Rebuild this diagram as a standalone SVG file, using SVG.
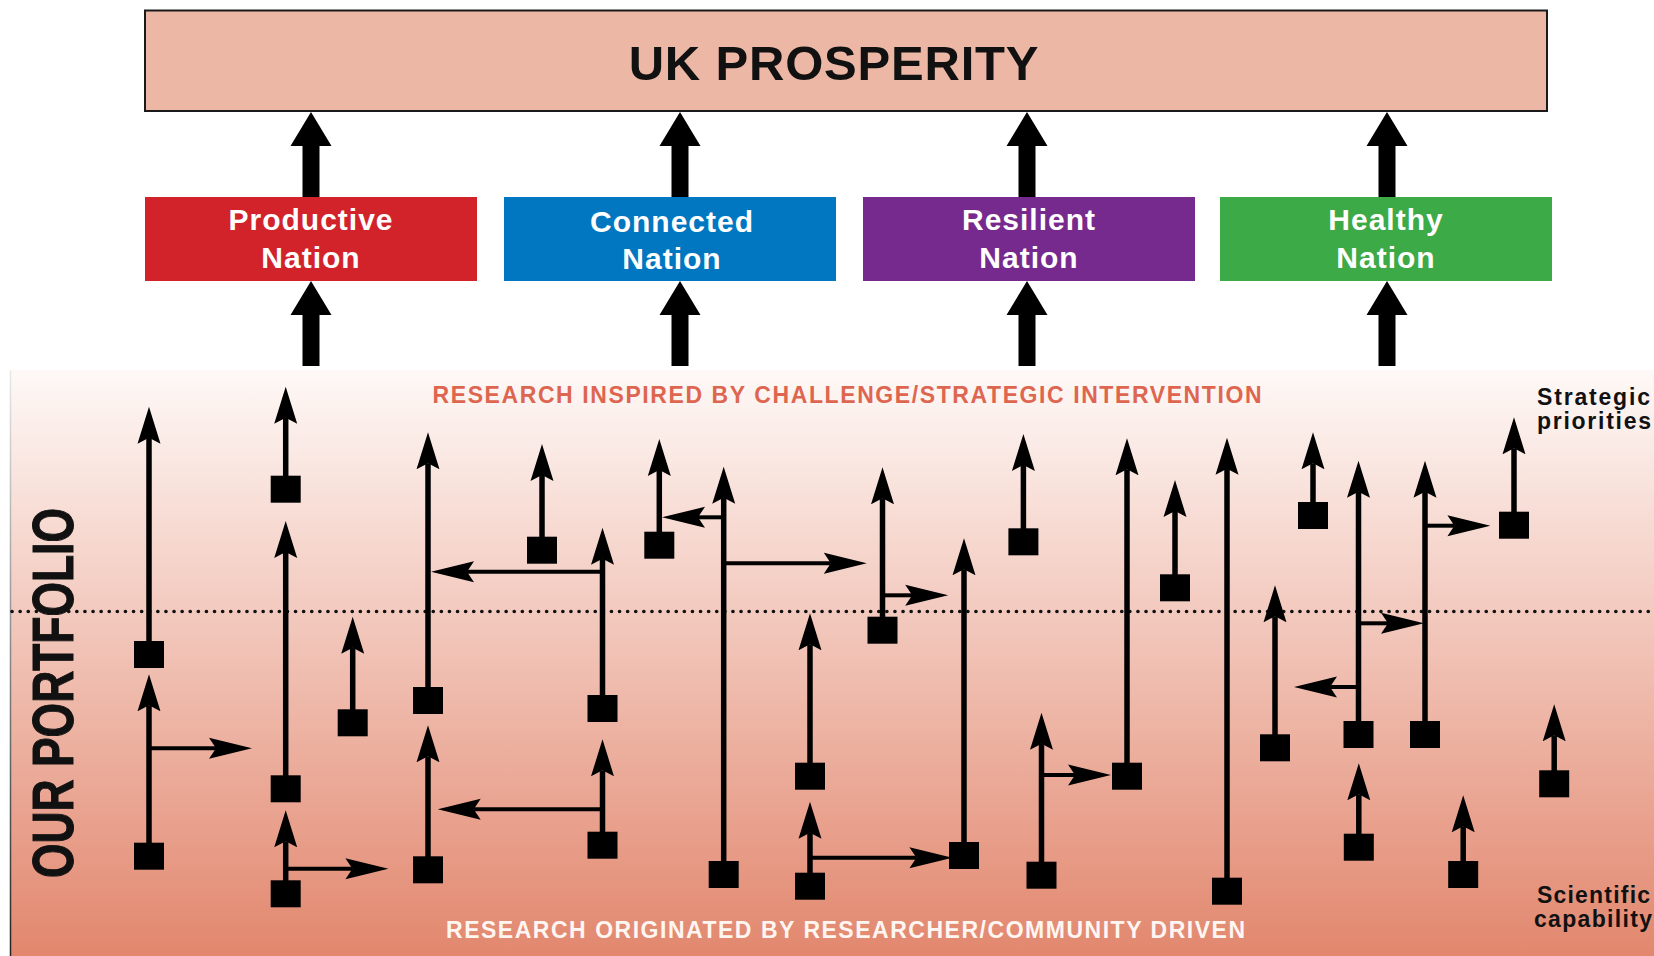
<svg xmlns="http://www.w3.org/2000/svg" width="1654" height="956" viewBox="0 0 1654 956">
<defs>
<linearGradient id="bg" x1="0" y1="370" x2="0" y2="956" gradientUnits="userSpaceOnUse">
<stop offset="0" stop-color="#FEF9F7"/>
<stop offset="0.4" stop-color="#F3CBC0"/>
<stop offset="1" stop-color="#E2876E"/>
</linearGradient>
<linearGradient id="edge" x1="0" y1="370" x2="0" y2="956" gradientUnits="userSpaceOnUse">
<stop offset="0" stop-color="#E8E8E8"/>
<stop offset="1" stop-color="#222"/>
</linearGradient>
<marker id="hv" markerUnits="userSpaceOnUse" viewBox="0 -12 38 24" markerWidth="38" markerHeight="24" refX="6" refY="0" orient="auto">
<path d="M37,0 L0,-11.5 L6,0 L0,11.5 Z" fill="#000"/>
</marker>
<marker id="hh" markerUnits="userSpaceOnUse" viewBox="0 -11 44 22" markerWidth="44" markerHeight="22" refX="7" refY="0" orient="auto">
<path d="M43,0 L0,-10.5 L7,0 L0,10.5 Z" fill="#000"/>
</marker>
<path id="big" d="M0,0 L20.5,34 L8.5,34 L8.5,85 L-8.5,85 L-8.5,34 L-20.5,34 Z" fill="#000"/>
<rect id="sq" x="-15" y="0" width="30" height="27" fill="#000"/>
</defs>
<style>
.v{stroke:#000;stroke-width:5.5;fill:none}
.h{stroke:#000;stroke-width:4;fill:none}
.nat{font-family:"Liberation Sans",Arial,sans-serif;font-weight:bold;font-size:30px;fill:#fff;text-anchor:middle;letter-spacing:1px}
.side{font-family:"Liberation Sans",Arial,sans-serif;font-weight:bold;font-size:23px;fill:#111}
.band{font-family:"Liberation Sans",Arial,sans-serif;font-weight:bold;font-size:23px}
</style>
<rect x="0" y="0" width="1654" height="956" fill="#fff"/>
<rect id="portfolio-bg" x="10" y="370" width="1644" height="586" fill="url(#bg)"/>
<line x1="10.5" y1="370" x2="10.5" y2="956" stroke="url(#edge)" stroke-width="1.5"/>
<line id="divider" x1="12" y1="611.5" x2="1654" y2="611.5" stroke="#111" stroke-width="3.6" stroke-linecap="round" stroke-dasharray="0.1 8"/>

<g id="uk-prosperity">
<rect x="145" y="10.5" width="1402" height="100.5" fill="#EDB7A5" stroke="#1a1a1a" stroke-width="2"/>
<text x="834" y="80" font-family="'Liberation Sans',Arial,sans-serif" font-weight="bold" font-size="49" letter-spacing="0.8" text-anchor="middle" fill="#111">UK PROSPERITY</text>
</g>
<g id="productive-nation">
<rect x="145" y="197" width="332" height="84" fill="#D2232A"/>
<text class="nat" x="311" y="230">Productive</text>
<text class="nat" x="311" y="268">Nation</text>
</g>
<g id="connected-nation">
<rect x="504" y="197" width="332" height="84" fill="#0077C0"/>
<text class="nat" x="672" y="232">Connected</text>
<text class="nat" x="672" y="269">Nation</text>
</g>
<g id="resilient-nation">
<rect x="863" y="197" width="332" height="84" fill="#772A8E"/>
<text class="nat" x="1029" y="230">Resilient</text>
<text class="nat" x="1029" y="268">Nation</text>
</g>
<g id="healthy-nation">
<rect x="1220" y="197" width="332" height="84" fill="#3DAA48"/>
<text class="nat" x="1386" y="230">Healthy</text>
<text class="nat" x="1386" y="268">Nation</text>
</g>

<g id="labels">
<text class="band" x="432.5" y="403.3" textLength="829" lengthAdjust="spacing" fill="#DE6650">RESEARCH INSPIRED BY CHALLENGE/STRATEGIC INTERVENTION</text>
<text class="band" x="446" y="937.7" textLength="799" lengthAdjust="spacing" fill="#FFF6F2">RESEARCH ORIGINATED BY RESEARCHER/COMMUNITY DRIVEN</text>
<text transform="translate(72.5,693) rotate(-90)" font-family="'Liberation Sans',Arial,sans-serif" font-weight="bold" font-size="57" text-anchor="middle" textLength="370" lengthAdjust="spacingAndGlyphs" fill="#111" stroke="#111" stroke-width="1">OUR PORTFOLIO</text>
<text class="side" x="1537" y="405" textLength="113" lengthAdjust="spacing">Strategic</text>
<text class="side" x="1537" y="429" textLength="114" lengthAdjust="spacing">priorities</text>
<text class="side" x="1537" y="903" textLength="113" lengthAdjust="spacing">Scientific</text>
<text class="side" x="1534" y="927" textLength="118" lengthAdjust="spacing">capability</text>
</g>

<g id="connectors">
<use href="#big" x="311" y="112"/>
<use href="#big" x="680" y="112"/>
<use href="#big" x="1027" y="112"/>
<use href="#big" x="1387" y="112"/>
<use href="#big" x="311" y="281"/>
<use href="#big" x="680" y="281"/>
<use href="#big" x="1027" y="281"/>
<use href="#big" x="1387" y="281"/>

<line class="v" x1="149" y1="654" x2="149" y2="437.7" marker-end="url(#hv)"/>
<line class="v" x1="149" y1="856" x2="149" y2="705.3" marker-end="url(#hv)"/>
<line class="v" x1="285.7" y1="489" x2="285.7" y2="417.7" marker-end="url(#hv)"/>
<line class="v" x1="285.7" y1="789" x2="285.7" y2="552" marker-end="url(#hv)"/>
<line class="v" x1="285.7" y1="894" x2="285.7" y2="841.3" marker-end="url(#hv)"/>
<line class="v" x1="352.7" y1="723" x2="352.7" y2="647.7" marker-end="url(#hv)"/>
<line class="v" x1="428" y1="700" x2="428" y2="463.3" marker-end="url(#hv)"/>
<line class="v" x1="428" y1="870" x2="428" y2="756.3" marker-end="url(#hv)"/>
<line class="v" x1="542" y1="550" x2="542" y2="475" marker-end="url(#hv)"/>
<line class="v" x1="602.5" y1="708" x2="602.5" y2="558.7" marker-end="url(#hv)"/>
<line class="v" x1="602.5" y1="845" x2="602.5" y2="770.3" marker-end="url(#hv)"/>
<line class="v" x1="659.3" y1="545" x2="659.3" y2="470" marker-end="url(#hv)"/>
<line class="v" x1="723.7" y1="875" x2="723.7" y2="497.7" marker-end="url(#hv)"/>
<line class="v" x1="882.5" y1="630" x2="882.5" y2="498.3" marker-end="url(#hv)"/>
<line class="v" x1="810" y1="776" x2="810" y2="644.3" marker-end="url(#hv)"/>
<line class="v" x1="810" y1="886" x2="810" y2="832.7" marker-end="url(#hv)"/>
<line class="v" x1="964" y1="856" x2="964" y2="569.3" marker-end="url(#hv)"/>
<line class="v" x1="1023.4" y1="542" x2="1023.4" y2="465" marker-end="url(#hv)"/>
<line class="v" x1="1041.5" y1="875" x2="1041.5" y2="743.7" marker-end="url(#hv)"/>
<line class="v" x1="1127" y1="776" x2="1127" y2="469.3" marker-end="url(#hv)"/>
<line class="v" x1="1175" y1="588" x2="1175" y2="511" marker-end="url(#hv)"/>
<line class="v" x1="1227" y1="891" x2="1227" y2="468.7" marker-end="url(#hv)"/>
<line class="v" x1="1275" y1="748" x2="1275" y2="616.3" marker-end="url(#hv)"/>
<line class="v" x1="1313" y1="516" x2="1313" y2="463.3" marker-end="url(#hv)"/>
<line class="v" x1="1358.5" y1="735" x2="1358.5" y2="491.7" marker-end="url(#hv)"/>
<line class="v" x1="1358.8" y1="847" x2="1358.8" y2="794.3" marker-end="url(#hv)"/>
<line class="v" x1="1425" y1="735" x2="1425" y2="491.7" marker-end="url(#hv)"/>
<line class="v" x1="1514" y1="525" x2="1514" y2="448.3" marker-end="url(#hv)"/>
<line class="v" x1="1463.2" y1="874" x2="1463.2" y2="826.3" marker-end="url(#hv)"/>
<line class="v" x1="1554.2" y1="784" x2="1554.2" y2="735.3" marker-end="url(#hv)"/>

<line class="h" x1="149" y1="748.3" x2="216" y2="748.3" marker-end="url(#hh)"/>
<line class="h" x1="285.7" y1="868.7" x2="352.4" y2="868.7" marker-end="url(#hh)"/>
<line class="h" x1="602.5" y1="571.7" x2="467" y2="571.7" marker-end="url(#hh)"/>
<line class="h" x1="602.5" y1="809.3" x2="473.7" y2="809.3" marker-end="url(#hh)"/>
<line class="h" x1="723.7" y1="517.3" x2="698" y2="517.3" marker-end="url(#hh)"/>
<line class="h" x1="723.7" y1="563.3" x2="830.8" y2="563.3" marker-end="url(#hh)"/>
<line class="h" x1="882.5" y1="595.3" x2="912.2" y2="595.3" marker-end="url(#hh)"/>
<line class="h" x1="810" y1="857.7" x2="916.4" y2="857.7" marker-end="url(#hh)"/>
<line class="h" x1="1041.5" y1="775" x2="1075" y2="775" marker-end="url(#hh)"/>
<line class="h" x1="1358.5" y1="687" x2="1330" y2="687" marker-end="url(#hh)"/>
<line class="h" x1="1358.5" y1="623.3" x2="1388" y2="623.3" marker-end="url(#hh)"/>
<line class="h" x1="1425" y1="525.7" x2="1454.4" y2="525.7" marker-end="url(#hh)"/>
</g>

<g id="projects">
<g id="p-a1"><use href="#sq" x="149" y="641"/></g>
<g id="p-a2"><use href="#sq" x="149" y="842.7"/></g>
<g id="p-b1"><use href="#sq" x="285.7" y="475.7"/></g>
<g id="p-b2"><use href="#sq" x="285.7" y="775.3"/></g>
<g id="p-b3"><use href="#sq" x="285.7" y="880.3"/></g>
<g id="p-c1"><use href="#sq" x="352.7" y="709.3"/></g>
<g id="p-d1"><use href="#sq" x="428" y="687"/></g>
<g id="p-d2"><use href="#sq" x="428" y="856.3"/></g>
<g id="p-e1"><use href="#sq" x="542" y="536.7"/></g>
<g id="p-e2"><use href="#sq" x="602.5" y="695"/></g>
<g id="p-e3"><use href="#sq" x="602.5" y="831.7"/></g>
<g id="p-f1"><use href="#sq" x="659.3" y="531.7"/></g>
<g id="p-g1"><use href="#sq" x="723.7" y="861"/></g>
<g id="p-h1"><use href="#sq" x="882.5" y="616.7"/></g>
<g id="p-i1"><use href="#sq" x="810" y="762.7"/></g>
<g id="p-i2"><use href="#sq" x="810" y="872.7"/></g>
<g id="p-j1"><use href="#sq" x="964" y="842"/></g>
<g id="p-k1"><use href="#sq" x="1023.4" y="528.3"/></g>
<g id="p-k2"><use href="#sq" x="1041.5" y="861.7"/></g>
<g id="p-l1"><use href="#sq" x="1127" y="762.7"/></g>
<g id="p-m1"><use href="#sq" x="1175" y="574.3"/></g>
<g id="p-n1"><use href="#sq" x="1227" y="877.7"/></g>
<g id="p-o1"><use href="#sq" x="1275" y="734.3"/></g>
<g id="p-p1"><use href="#sq" x="1313" y="502"/></g>
<g id="p-q1"><use href="#sq" x="1358.5" y="721"/></g>
<g id="p-q2"><use href="#sq" x="1358.8" y="833.7"/></g>
<g id="p-r1"><use href="#sq" x="1425" y="721"/></g>
<g id="p-s1"><use href="#sq" x="1514" y="511.7"/></g>
<g id="p-t1"><use href="#sq" x="1463.2" y="861"/></g>
<g id="p-u1"><use href="#sq" x="1554.2" y="770.3"/></g>
</g>
</svg>
